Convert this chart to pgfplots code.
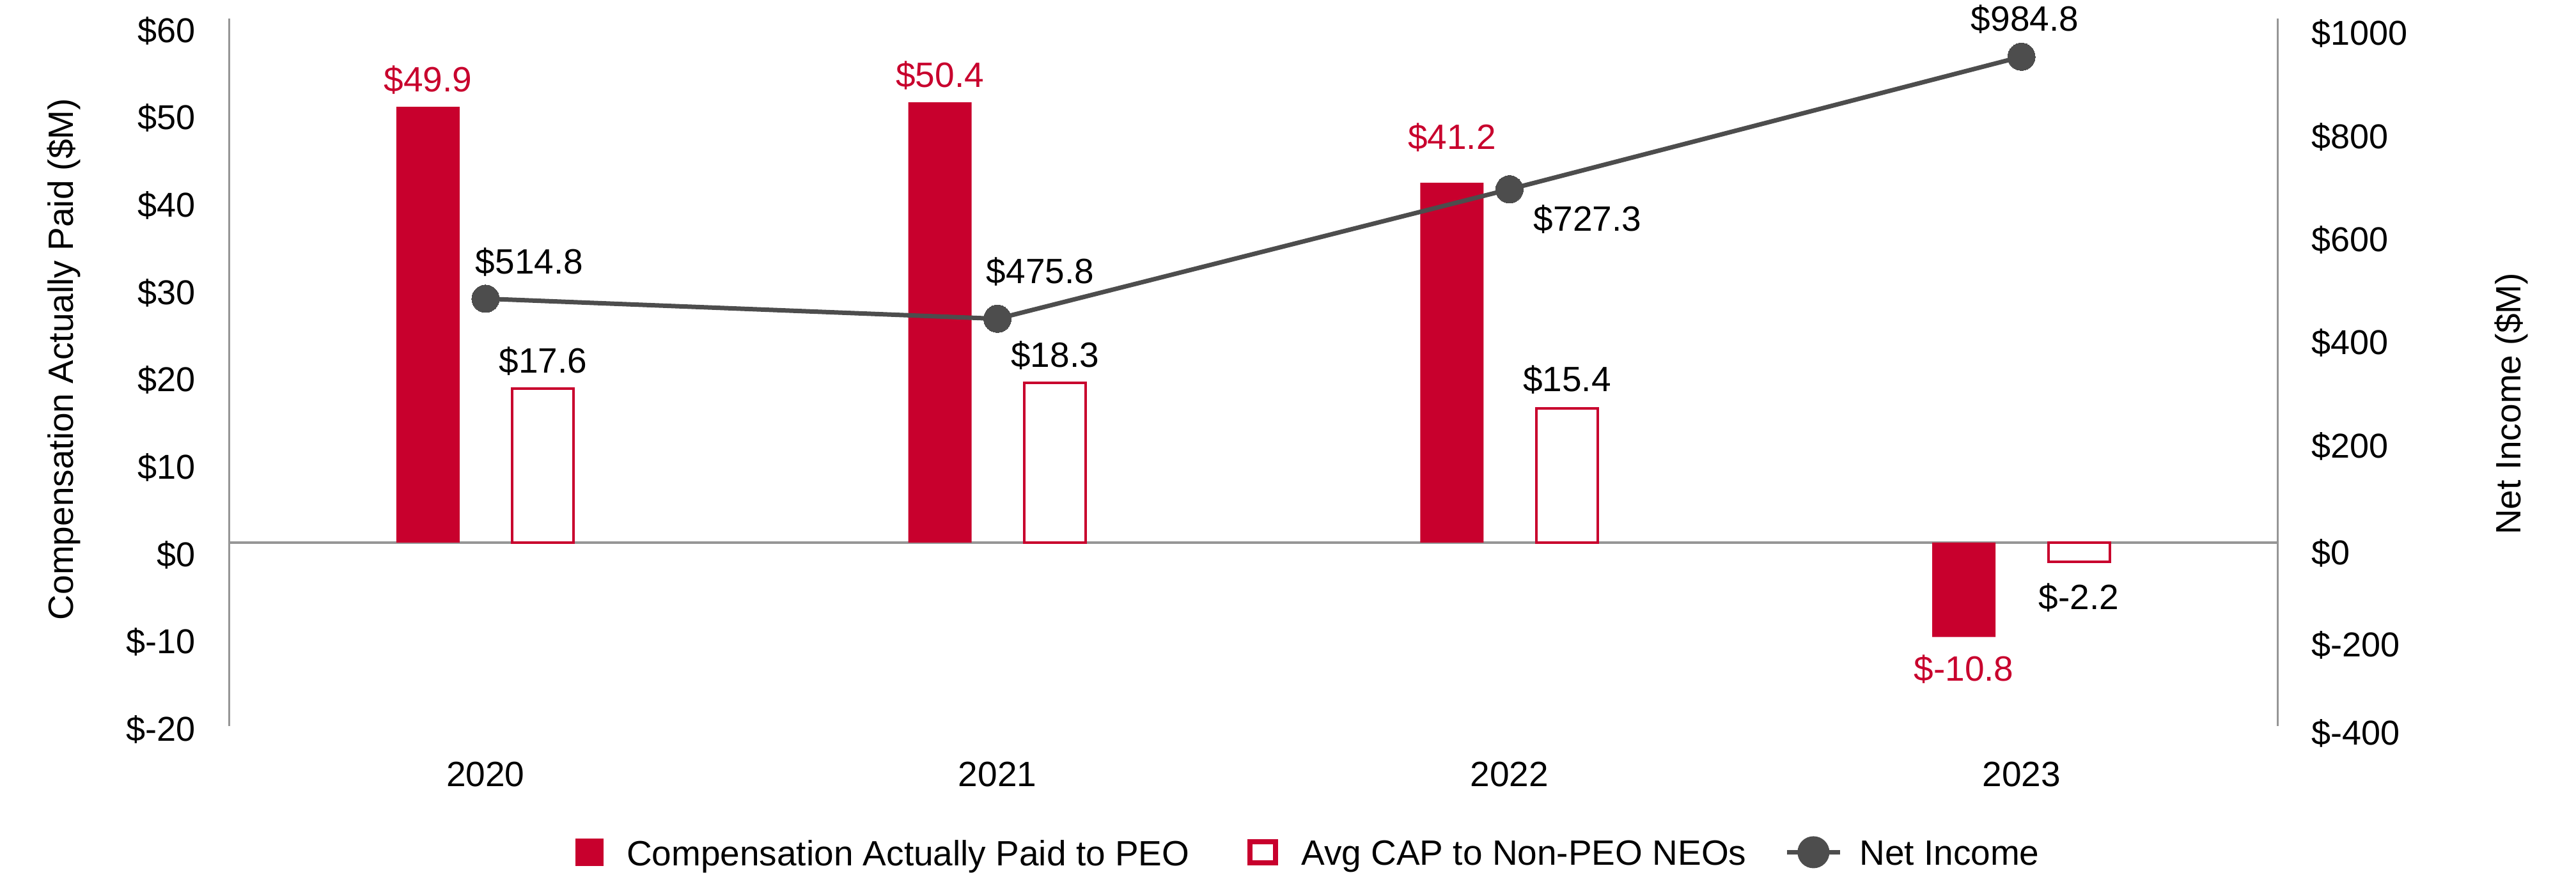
\documentclass[border=0pt]{standalone}
\usepackage{pgfplots}
\pgfplotsset{compat=1.18}
\usepackage{fontspec}
\setmainfont{Liberation Sans}
\definecolor{cred}{RGB}{200,0,45}
\definecolor{cgray}{RGB}{77,77,77}
\definecolor{agray}{RGB}{150,150,150}
\newcommand{\lblfont}{\fontsize{11}{13}\selectfont}
\newcommand{\tickfont}{\fontsize{10.8}{13}\selectfont}
\begin{document}
\begin{tikzpicture}
\path[use as bounding box] (-71.8pt,-48.6pt) rectangle (734pt,227.2pt);
\pgfplotsset{
  common/.style={
    scale only axis, width=640.6pt, height=221.4pt,
    at={(0pt,0pt)}, anchor=south west,
    xmin=-0.5, xmax=3.5, clip=false,
    major tick length=0pt, minor tick num=0,
    y axis line style={-, agray, line width=0.6pt},
  }
}
\begin{axis}[common, ymin=-21, ymax=60,
  axis y line*=left, axis x line*=bottom,
  x axis line style={draw=none},
  ytick={-20,-10,0,10,20,30,40,50,60},
  yticklabels={\$-20,\$-10,\$0,\$10,\$20,\$30,\$40,\$50,\$60},
  yticklabel style={anchor=east, inner sep=0pt, xshift=-10.4pt, yshift=-3.8pt, font=\tickfont},
  xtick={0,1,2,3}, xticklabels={2020,2021,2022,2023},
  xticklabel style={anchor=center, inner sep=0pt, yshift=-15.2pt, font=\lblfont},
]
\draw[agray, line width=0.7pt] (axis cs:-0.5,0) -- (axis cs:3.5,0);
\addplot[ybar, bar width=19.8pt, bar shift=-18pt, fill=cred, draw=none]
  coordinates {(0,49.9) (1,50.4) (2,41.2) (3,-10.8)};
\addplot[ybar, bar width=19.2pt, bar shift=18pt, fill=white, draw=cred, line width=0.8pt]
  coordinates {(0,17.6) (1,18.3) (2,15.4) (3,-2.2)};
% bar value labels
\node[text=cred, font=\lblfont] at (axis cs:-0.1124,52.96) {\$49.9};
\node[text=cred, font=\lblfont] at (axis cs:0.8876,53.5) {\$50.4};
\node[text=cred, font=\lblfont] at (axis cs:1.8876,46.4) {\$41.2};
\node[text=cred, font=\lblfont] at (axis cs:2.8876,-14.5) {\$-10.8};
\node[font=\lblfont] at (axis cs:0.1124,20.8) {\$17.6};
\node[font=\lblfont] at (axis cs:1.1124,21.4) {\$18.3};
\node[font=\lblfont] at (axis cs:2.1124,18.65) {\$15.4};
\node[font=\lblfont] at (axis cs:3.1124,-6.3) {\$-2.2};
% net income labels
\node[font=\lblfont] at (axis cs:0.0857,32.1) {\$514.8};
\node[font=\lblfont] at (axis cs:1.0835,31.0) {\$475.8};
\node[font=\lblfont] at (axis cs:2.1525,37.0) {\$727.3};
\node[font=\lblfont] at (axis cs:3.0067,59.9) {\$984.8};
% axis titles
\node[rotate=90, font=\lblfont] at (rel axis cs:-0.0809,0.5185) {Compensation Actually Paid (\$M)};
\node[rotate=90, font=\lblfont] at (rel axis cs:1.1143,0.4553) {Net Income (\$M)};
\end{axis}
\begin{axis}[common, ymin=-315.3, ymax=1059,
  axis y line*=right, axis x line=none,
  ytick={-305.4,-134.1,44.7,252,453.1,653,852.9,1054},
  yticklabels={\$-400,\$-200,\$0,\$200,\$400,\$600,\$800,\$1000},
  yticklabel style={anchor=west, inner sep=0pt, xshift=10.4pt, yshift=-3.8pt, font=\tickfont},
  legend style={at={(0.1686,-0.1798)}, anchor=west, draw=none, fill=none,
    legend columns=3, inner sep=0pt, font=\lblfont,
    cells={anchor=west}, nodes={inner sep=0pt},
    /tikz/column 1/.style={column sep=7.2pt},
    /tikz/column 2/.style={column sep=18.2pt},
    /tikz/column 3/.style={column sep=7.2pt},
    /tikz/column 4/.style={column sep=12pt},
    /tikz/column 5/.style={column sep=5.4pt}},
]
\addlegendimage{legend image code/.code={\fill[cred] (0pt,-3.2pt) rectangle (8.4pt,5.0pt);}}
\addlegendentry{Compensation Actually Paid to PEO}
\addlegendimage{legend image code/.code={\draw[cred, line width=1.6pt] (0.8pt,-2.4pt) rectangle (8.8pt,4.2pt);}}
\addlegendentry{Avg CAP to Non-PEO NEOs}
\addplot[cgray, line width=1.4pt, mark=*, mark size=4.3pt, mark options={fill=cgray, draw=cgray, line width=0pt},
  legend image code/.code={\draw[cgray, line width=1.4pt] (0pt,0.9pt) -- (16.6pt,0.9pt); \fill[cgray] (8.3pt,0.9pt) circle (4.3pt);}]
  coordinates {(0,514.8) (1,475.8) (2,727.3) (3,984.8)};
\addlegendentry{Net Income}
\end{axis}
\end{tikzpicture}
\end{document}
